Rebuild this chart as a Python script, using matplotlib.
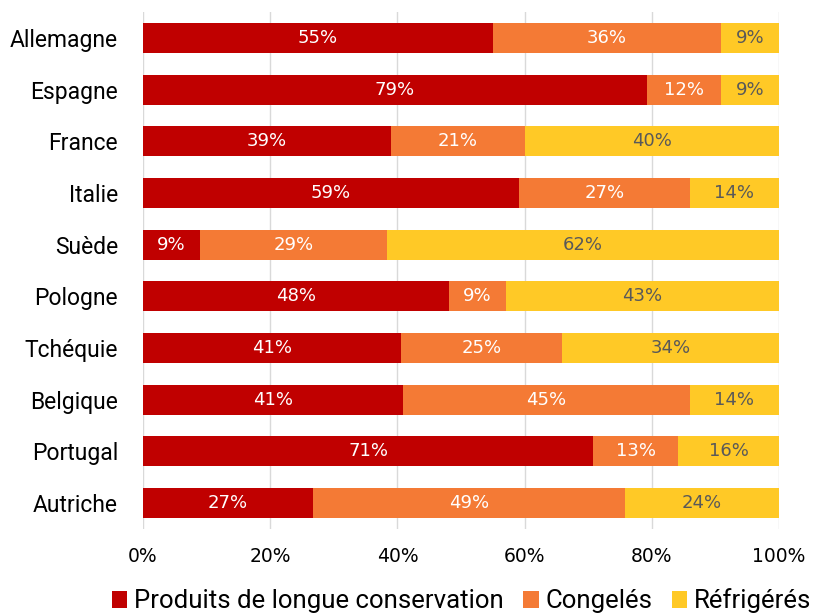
import matplotlib
matplotlib.use("Agg")
import matplotlib.pyplot as plt
import numpy as np

plt.rcParams['font.family'] = ['Roboto', 'DejaVu Sans']

countries = ["Allemagne", "Espagne", "France", "Italie", "Suède", "Pologne",
             "Tchéquie", "Belgique", "Portugal", "Autriche"]
longue = [55.0, 79.2, 39.0, 59.1, 9.0, 48.1, 40.6, 40.9, 70.8, 26.7]
congeles = [35.9, 11.7, 21.0, 26.9, 29.4, 9.0, 25.3, 45.1, 13.3, 49.1]
refrig = [9.1, 9.1, 40.0, 14.0, 61.6, 42.9, 34.1, 14.0, 15.9, 24.2]
series_names = ["Produits de longue conservation", "Congelés", "Réfrigérés"]
xticks = [0, 20, 40, 60, 80, 100]

colors = ["#C00000", "#F47A35", "#FFC926"]
text_colors = ["white", "white", "#595959"]

fig = plt.figure(figsize=(8.24, 6.14), dpi=100)
ax = fig.add_axes([0.1735, 0.1384, 0.9454 - 0.1735, 0.9805 - 0.1384])

y = np.arange(len(countries))
left = np.zeros(len(countries))
for vals, c, tc, name in zip([longue, congeles, refrig], colors, text_colors, series_names):
    vals = np.array(vals)
    ax.barh(y, vals, left=left, height=0.58, color=c, label=name, zorder=3)
    for yi, l, v in zip(y, left, vals):
        ax.text(l + v / 2, yi, f"{round(v):d}%", ha='center', va='center',
                color=tc, fontsize=13, family='DejaVu Sans', zorder=4)
    left = left + vals

ax.set_xlim(0, 100)
ax.set_ylim(len(countries) - 0.5, -0.5)
ax.set_yticks(y)
ax.set_yticklabels(countries, fontsize=16.5)
ax.set_xticks(xticks)
ax.set_xticklabels([f"{t}%" for t in xticks], fontsize=13.5, family='DejaVu Sans')
ax.tick_params(axis='both', length=0, colors='black')
ax.tick_params(axis='y', pad=18)
ax.tick_params(axis='x', pad=13)
for s in ax.spines.values():
    s.set_visible(False)
ax.grid(axis='x', color='#D9D9D9', linewidth=1, zorder=0)

leg = fig.legend(loc='center left', bbox_to_anchor=(112 / 824, 13 / 614), ncol=3,
                 frameon=False, fontsize=18.5, handlelength=0.6, handleheight=0.6,
                 handletextpad=0.27, columnspacing=0.75, borderpad=0, borderaxespad=0)

fig.savefig("out.png", dpi=100)
